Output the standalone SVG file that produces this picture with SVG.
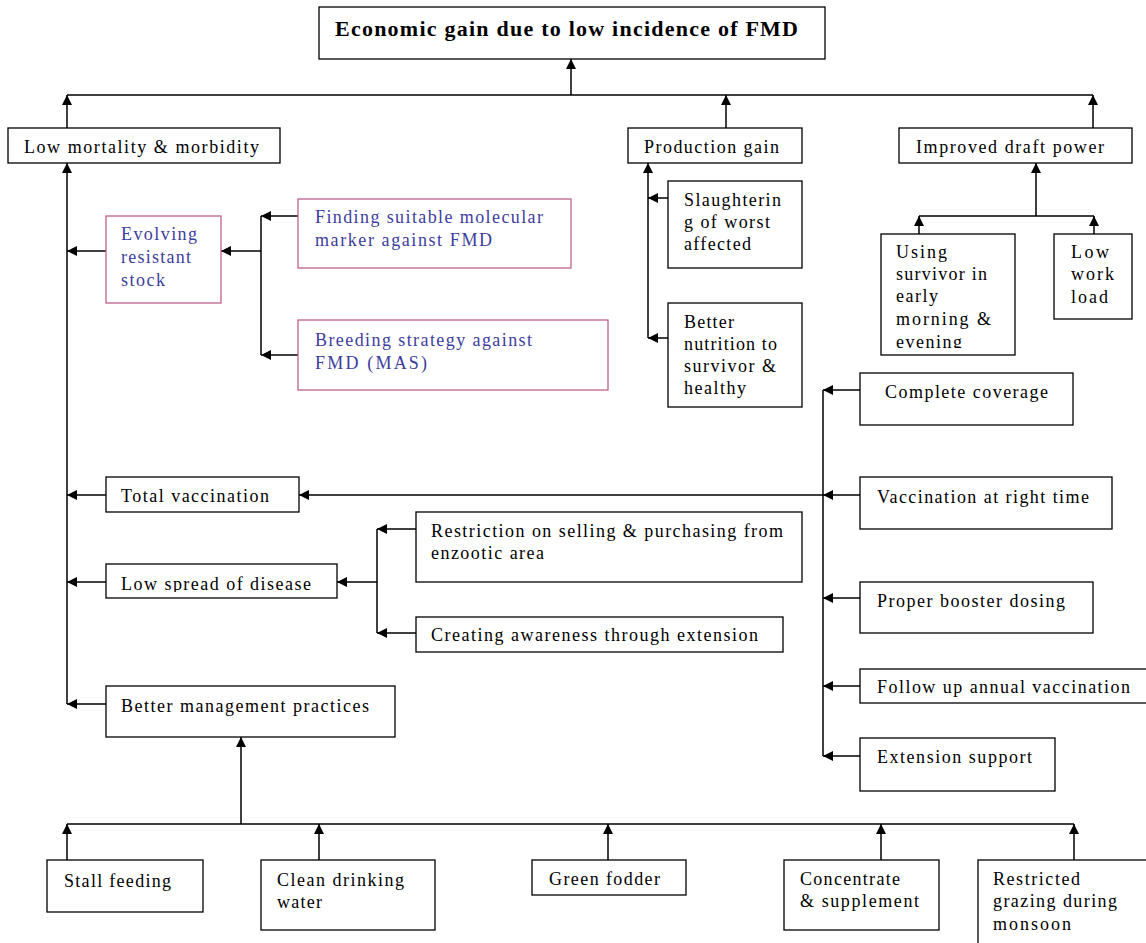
<svg xmlns="http://www.w3.org/2000/svg" width="1146" height="943" viewBox="0 0 1146 943">
<style>
.n{fill:#fff;stroke:#000;stroke-width:1.3}
.p{fill:#fff;stroke:#c0608c;stroke-width:1.3}
.t{font-family:"Liberation Serif","Times New Roman",serif;font-size:18px;fill:#000}
.bt{fill:#3d3d9e}
.h{font-family:"Liberation Serif","Times New Roman",serif;font-size:22px;font-weight:bold;fill:#000}
.c path{stroke:#000;stroke-width:1.5;fill:none}
.c .a{marker-end:url(#ah)}
</style>
<defs>
<marker id="ah" viewBox="0 0 10 10" refX="10" refY="5" markerWidth="10" markerHeight="10" markerUnits="userSpaceOnUse" orient="auto"><path d="M0,0 L10,5 L0,10 z" fill="#000"/></marker>
<clipPath id="cEven"><rect x="880" y="234" width="135" height="114"/></clipPath>
<clipPath id="cSpread"><rect x="106" y="564" width="232" height="28"/></clipPath>
</defs>
<rect width="1146" height="943" fill="#fff"/>

<g class="c" id="connectors">
<path class="a" d="M571,95 V59"/>
<path d="M67,95 H1093"/>
<path class="a" d="M67,128 V95"/>
<path class="a" d="M726,128 V95"/>
<path class="a" d="M1093,128 V95"/>
<path class="a" d="M67,704 V163"/>
<path class="a" d="M106,251 H67"/>
<path class="a" d="M106,495 H67"/>
<path class="a" d="M106,582 H67"/>
<path class="a" d="M106,704 H67"/>
<path d="M261,216 V355"/>
<path class="a" d="M298,216 H261"/>
<path class="a" d="M298,355 H261"/>
<path class="a" d="M261,251 H221"/>
<path class="a" d="M648,338 V163"/>
<path class="a" d="M668,198 H648"/>
<path class="a" d="M668,338 H648"/>
<path class="a" d="M1036,216 V163"/>
<path d="M919,216 H1094"/>
<path class="a" d="M919,234 V216"/>
<path class="a" d="M1094,234 V216"/>
<path d="M823,390 V756"/>
<path class="a" d="M860,390 H823"/>
<path class="a" d="M860,495 H823"/>
<path class="a" d="M860,598 H823"/>
<path class="a" d="M860,686 H823"/>
<path class="a" d="M860,756 H823"/>
<path class="a" d="M823,495 H299"/>
<path d="M377,529 V633"/>
<path class="a" d="M416,529 H377"/>
<path class="a" d="M416,633 H377"/>
<path class="a" d="M377,582 H337"/>
<path class="a" d="M241,824 V737"/>
<path d="M67,824 H1074"/>
<path class="a" d="M67,860 V824"/>
<path class="a" d="M319,860 V824"/>
<path class="a" d="M608,860 V824"/>
<path class="a" d="M881,860 V824"/>
<path class="a" d="M1074,860 V824"/>
</g>

<g id="title"><rect class="n" x="319" y="7" width="506" height="52"/><text class="h" x="335" y="36" textLength="463">Economic gain due to low incidence of FMD</text></g>

<g id="low-mortality"><rect class="n" x="8" y="128" width="272" height="35"/><text class="t" x="24" y="153" textLength="235">Low mortality &amp; morbidity</text></g>
<g id="production-gain"><rect class="n" x="628" y="128" width="174" height="35"/><text class="t" x="644" y="153" textLength="135">Production gain</text></g>
<g id="draft-power"><rect class="n" x="899" y="128" width="233" height="35"/><text class="t" x="916" y="153" textLength="188">Improved draft power</text></g>

<g id="evolving"><rect class="p" x="106" y="216" width="115" height="87"/>
<text class="t bt" x="121" y="240" textLength="76">Evolving</text>
<text class="t bt" x="121" y="263" textLength="70">resistant</text>
<text class="t bt" x="121" y="286" textLength="44">stock</text></g>
<g id="finding"><rect class="p" x="298" y="199" width="273" height="69"/>
<text class="t bt" x="315" y="223" textLength="228">Finding suitable molecular</text>
<text class="t bt" x="315" y="246" textLength="177">marker against FMD</text></g>
<g id="breeding"><rect class="p" x="298" y="320" width="310" height="70"/>
<text class="t bt" x="315" y="346" textLength="217">Breeding strategy against</text>
<text class="t bt" x="315" y="369" textLength="112">FMD (MAS)</text></g>

<g id="slaughtering"><rect class="n" x="668" y="181" width="134" height="87"/>
<text class="t" x="684" y="206" textLength="97">Slaughterin</text>
<text class="t" x="684" y="228" textLength="86">g of worst</text>
<text class="t" x="684" y="250" textLength="67">affected</text></g>
<g id="better-nutrition"><rect class="n" x="668" y="303" width="134" height="104"/>
<text class="t" x="684" y="328" textLength="50">Better</text>
<text class="t" x="684" y="350" textLength="93">nutrition to</text>
<text class="t" x="684" y="372" textLength="92">survivor &amp;</text>
<text class="t" x="684" y="394" textLength="62">healthy</text></g>

<g id="using-survivor"><rect class="n" x="881" y="234" width="134" height="121"/>
<text class="t" x="896" y="258" textLength="51">Using</text>
<text class="t" x="896" y="280" textLength="91">survivor in</text>
<text class="t" x="896" y="302" textLength="42">early</text>
<text class="t" x="896" y="325" textLength="95">morning &amp;</text>
<text class="t" x="896" y="348" textLength="66" clip-path="url(#cEven)">evening</text></g>
<g id="low-work"><rect class="n" x="1054" y="234" width="78" height="85"/>
<text class="t" x="1071" y="258" textLength="38">Low</text>
<text class="t" x="1071" y="280" textLength="43">work</text>
<text class="t" x="1071" y="303" textLength="37">load</text></g>

<g id="complete-coverage"><rect class="n" x="860" y="373" width="213" height="52"/><text class="t" x="885" y="398" textLength="163">Complete coverage</text></g>
<g id="right-time"><rect class="n" x="860" y="477" width="252" height="52"/><text class="t" x="877" y="503" textLength="212">Vaccination at right time</text></g>
<g id="booster"><rect class="n" x="860" y="582" width="233" height="51"/><text class="t" x="877" y="607" textLength="188">Proper booster dosing</text></g>
<g id="follow-up"><rect class="n" x="860" y="669" width="295" height="34"/><text class="t" x="877" y="693" textLength="253">Follow up annual vaccination</text></g>
<g id="extension-support"><rect class="n" x="860" y="738" width="195" height="53"/><text class="t" x="877" y="763" textLength="155">Extension support</text></g>

<g id="total-vaccination"><rect class="n" x="106" y="477" width="193" height="35"/><text class="t" x="121" y="502" textLength="148">Total vaccination</text></g>
<g id="low-spread"><rect class="n" x="106" y="564" width="231" height="34"/><text class="t" x="121" y="590" textLength="190" clip-path="url(#cSpread)">Low spread of disease</text></g>
<g id="restriction"><rect class="n" x="416" y="512" width="386" height="70"/>
<text class="t" x="431" y="537" textLength="352">Restriction on selling &amp; purchasing from</text>
<text class="t" x="431" y="559" textLength="113">enzootic area</text></g>
<g id="awareness"><rect class="n" x="416" y="617" width="367" height="35"/><text class="t" x="431" y="641" textLength="327">Creating awareness through extension</text></g>
<g id="better-management"><rect class="n" x="106" y="686" width="289" height="51"/><text class="t" x="121" y="712" textLength="248">Better management practices</text></g>

<g id="stall-feeding"><rect class="n" x="47" y="860" width="156" height="52"/><text class="t" x="64" y="887" textLength="107">Stall feeding</text></g>
<g id="clean-water"><rect class="n" x="261" y="860" width="174" height="70"/>
<text class="t" x="277" y="886" textLength="127">Clean drinking</text>
<text class="t" x="277" y="908" textLength="45">water</text></g>
<g id="green-fodder"><rect class="n" x="532" y="860" width="154" height="35"/><text class="t" x="549" y="885" textLength="111">Green fodder</text></g>
<g id="concentrate"><rect class="n" x="784" y="860" width="155" height="70"/>
<text class="t" x="800" y="885" textLength="100">Concentrate</text>
<text class="t" x="800" y="907" textLength="119">&amp; supplement</text></g>
<g id="restricted-grazing"><rect class="n" x="978" y="860" width="180" height="95"/>
<text class="t" x="993" y="885" textLength="87">Restricted</text>
<text class="t" x="993" y="907" textLength="124">grazing during</text>
<text class="t" x="993" y="930" textLength="78">monsoon</text></g>
</svg>
